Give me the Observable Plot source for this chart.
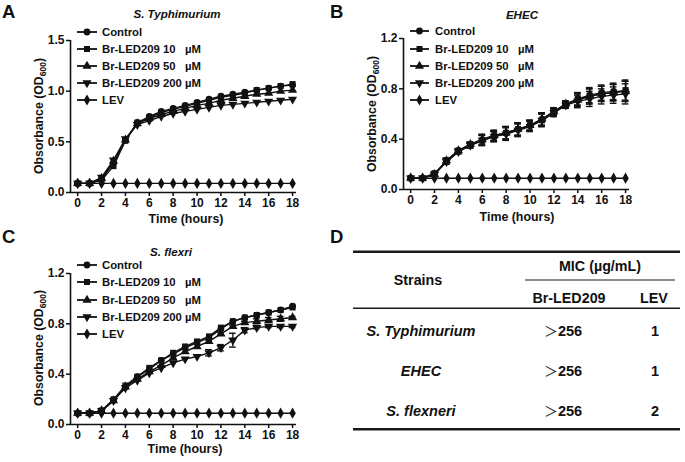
<!DOCTYPE html>
<html><head><meta charset="utf-8">
<script src="https://cdn.jsdelivr.net/npm/d3@7"></script>
<script src="https://cdn.jsdelivr.net/npm/@observablehq/plot@0.6"></script>
<style>
html,body{margin:0;padding:0;background:#fff;}
#fig{position:relative;width:685px;height:462px;overflow:hidden;font-family:"Liberation Sans",Arial,sans-serif;color:#111;}
.panel{position:absolute;}
#overlay{position:absolute;left:0;top:0;pointer-events:none;}
</style></head><body><div id="fig"></div>
<script>
// ---------------- data ----------------
const hours = [0,1,2,3,4,5,6,7,8,9,10,11,12,13,14,15,16,17,18];
const xTicks = [0,2,4,6,8,10,12,14,16,18];
const seriesNames = ["Control","Br-LED209 10   \u00b5M","Br-LED209 50   \u00b5M","Br-LED209 200 \u00b5M","LEV"];

// A: S. Typhimurium
const typhiControl = [0.09,0.09,0.13,0.29,0.52,0.69,0.75,0.80,0.83,0.86,0.89,0.92,0.95,0.97,0.99,1.01,1.03,1.05,1.06];
const typhi10      = [0.09,0.09,0.12,0.26,0.51,0.69,0.74,0.79,0.82,0.85,0.88,0.91,0.94,0.96,0.98,1.01,1.03,1.05,1.07];
const typhi50      = [0.09,0.09,0.14,0.31,0.52,0.68,0.73,0.77,0.80,0.83,0.86,0.88,0.91,0.93,0.95,0.97,0.98,1.00,1.01];
const typhi200     = [0.09,0.09,0.15,0.32,0.53,0.67,0.71,0.75,0.78,0.80,0.82,0.84,0.86,0.87,0.88,0.89,0.90,0.91,0.92];
const typhiLEV     = [0.09,0.09,0.09,0.09,0.09,0.09,0.09,0.09,0.09,0.09,0.09,0.09,0.09,0.09,0.09,0.09,0.09,0.09,0.09];

// B: EHEC
const ehecControl = [0.09,0.09,0.12,0.23,0.31,0.35,0.39,0.42,0.45,0.48,0.51,0.56,0.62,0.68,0.72,0.75,0.77,0.78,0.78];
const ehec10      = [0.09,0.09,0.13,0.22,0.30,0.35,0.39,0.43,0.45,0.48,0.51,0.55,0.61,0.67,0.72,0.74,0.76,0.77,0.79];
const ehec50      = [0.09,0.09,0.12,0.23,0.31,0.36,0.40,0.43,0.45,0.48,0.51,0.56,0.62,0.68,0.71,0.74,0.76,0.77,0.78];
const ehec200     = [0.09,0.09,0.12,0.22,0.30,0.35,0.39,0.42,0.44,0.47,0.50,0.55,0.61,0.67,0.70,0.72,0.74,0.75,0.76];
const ehecLEV     = [0.09,0.09,0.09,0.09,0.09,0.09,0.09,0.09,0.09,0.09,0.09,0.09,0.09,0.09,0.09,0.09,0.09,0.09,0.09];
const ehecErr     = [0,0,0.01,0.02,0.015,0.02,0.04,0.04,0.05,0.05,0.04,0.05,0.03,0.025,0.05,0.06,0.06,0.065,0.08];

// C: S. flexri
const flexControl = [0.09,0.09,0.11,0.19,0.30,0.38,0.44,0.51,0.56,0.61,0.65,0.69,0.76,0.82,0.85,0.87,0.89,0.91,0.94];
const flex10      = [0.09,0.09,0.11,0.20,0.31,0.38,0.45,0.51,0.57,0.62,0.66,0.70,0.77,0.82,0.85,0.87,0.89,0.91,0.93];
const flex50      = [0.09,0.09,0.11,0.19,0.30,0.36,0.42,0.47,0.53,0.58,0.62,0.66,0.72,0.78,0.81,0.82,0.83,0.84,0.85];
const flex200     = [0.09,0.09,0.11,0.19,0.29,0.35,0.41,0.45,0.49,0.52,0.54,0.57,0.61,0.67,0.75,0.77,0.78,0.78,0.78];
const flexLEV     = [0.09,0.09,0.09,0.09,0.09,0.09,0.09,0.09,0.09,0.09,0.09,0.09,0.09,0.09,0.09,0.09,0.09,0.09,0.09];
const flex50Err   = [0,0,0,0,0,0,0,0,0,0,0,0.01,0.01,0.01,0.01,0.02,0.02,0.02,0.01];
const flex200Err  = [0,0,0,0,0,0,0,0,0,0,0,0.025,0.025,0.055,0.02,0.01,0.01,0.01,0.01];

// D: MIC table
const tableStrains = ["S. Typhimurium","EHEC","S. flexneri"];
const micBrLED = ["256","256","256"];
const micLEV = ["1","1","2"];

// ---------------- layout ----------------
const ink = "#111";
const symbolOf = ["circle","square","triangle","triangle","diamond"];
const rotateOf = [0,0,0,180,0];
const xDomain = [-0.6, 18.33];

const panels = [
  {letter:"A", title:"S. Typhimurium", values:[typhiControl,typhi10,typhi50,typhi200,typhiLEV], err:[null,null,null,null,null],
   left:0, top:0, w:340, h:230, mL:70, mT:40, mB:38, mR:44, yMax:1.5, yTicks:[0,0.5,1.0,1.5],
   letterPos:[2,18], titlePos:[177,18], yTitlePos:[42.5,116], xTitlePos:[186,222.5],
   legend:{x0:77, x1:97, tx:102, ys:[32,49,66,83,100]}},
  {letter:"B", title:"EHEC", values:[ehecControl,ehec10,ehec50,ehec200,ehecLEV], err:[ehecErr,ehecErr,ehecErr,ehecErr,null],
   left:340, top:0, w:345, h:230, mL:63, mT:38, mB:41, mR:56, yMax:1.2, yTicks:[0,0.4,0.8,1.2],
   letterPos:[330,18], titlePos:[522,19], yTitlePos:[376,114], xTitlePos:[517,221],
   legend:{x0:410, x1:429, tx:435, ys:[31,49,66,83,100]}},
  {letter:"C", title:"S. flexri", values:[flexControl,flex10,flex50,flex200,flexLEV], err:[null,null,flex50Err,flex200Err,null],
   left:0, top:230, w:340, h:232, mL:70, mT:43, mB:38, mR:44, yMax:1.2, yTicks:[0,0.4,0.8,1.2],
   letterPos:[2,243], titlePos:[171,256], yTitlePos:[42.5,348], xTitlePos:[185,453],
   legend:{x0:77, x1:97, tx:102, ys:[265,282,300,317,334]}}
];

const fig = document.getElementById("fig");
const fmt1 = d3.format(".1f");

panels.forEach(p => {
  const rows = [];
  p.values.forEach((vals, i) => vals.forEach((v, j) => rows.push({s: seriesNames[i], si: i, t: hours[j], v, e: p.err[i] ? p.err[i][j] : 0})));
  const errRows = rows.filter(d => d.e > 0);
  const dotMarks = [4,0,3,2,1].map(i => Plot.dot(rows.filter(d => d.si === i), {
    x: "t", y: "v", symbol: symbolOf[i], r: 3.4, fill: ink, stroke: "none", rotate: rotateOf[i]
  }));
  const chart = Plot.plot({
    width: p.w, height: p.h,
    marginLeft: p.mL, marginRight: p.mR, marginTop: p.mT, marginBottom: p.mB,
    style: {fontFamily: "'Liberation Sans', Arial, sans-serif", fontSize: "12px", fontWeight: "bold", color: ink, background: "transparent", overflow: "visible"},
    x: {domain: xDomain, type: "linear"},
    y: {domain: [0, p.yMax]},
    marks: [
      Plot.line(rows, {x: "t", y: "v", z: "s", stroke: ink, strokeWidth: 1.4}),
      Plot.ruleX(errRows, {x: "t", y1: d => d.v - d.e, y2: d => d.v + d.e, stroke: ink, strokeWidth: 1.3}),
      Plot.ruleY(errRows, {y: d => d.v + d.e, x1: d => d.t - 0.28, x2: d => d.t + 0.28, stroke: ink, strokeWidth: 1.4}),
      Plot.ruleY(errRows, {y: d => d.v - d.e, x1: d => d.t - 0.28, x2: d => d.t + 0.28, stroke: ink, strokeWidth: 1.4}),
      ...dotMarks,
      Plot.ruleX([xDomain[0]], {y1: 0, y2: p.yMax, stroke: ink, strokeWidth: 1.6}),
      Plot.ruleY([0], {x1: xDomain[0], x2: xDomain[1], stroke: ink, strokeWidth: 1.6}),
      Plot.axisY({ticks: p.yTicks, tickFormat: fmt1, tickSize: 4, tickPadding: 2, label: null, strokeWidth: 1.5}),
      Plot.axisX({ticks: xTicks, tickFormat: "d", tickSize: 4, tickPadding: 1.5, label: null, strokeWidth: 1.5})
    ]
  });
  const div = document.createElement("div");
  div.className = "panel";
  div.style.left = p.left + "px";
  div.style.top = p.top + "px";
  div.appendChild(chart);
  fig.appendChild(div);
});

// ---------------- overlay: letters, titles, legends, axis titles, table ----------------
const svg = d3.select(fig).append("svg").attr("id","overlay").attr("width",685).attr("height",462)
  .style("font-family","'Liberation Sans', Arial, sans-serif").style("font-weight","bold").attr("fill", ink);

panels.forEach(p => {
  svg.append("text").attr("x", p.letterPos[0]).attr("y", p.letterPos[1]).attr("font-size", 18.5).text(p.letter);
  svg.append("text").attr("x", p.titlePos[0]).attr("y", p.titlePos[1]).attr("text-anchor","middle")
    .attr("font-size", 11.6).attr("font-style","italic").text(p.title);
  const yt = svg.append("text").attr("transform", `translate(${p.yTitlePos[0]},${p.yTitlePos[1]}) rotate(-90)`)
    .attr("text-anchor","middle").attr("font-size", 12.3);
  yt.append("tspan").text("Obsorbance (OD");
  yt.append("tspan").attr("font-size", 8.5).attr("dy", 3).text("600");
  yt.append("tspan").attr("dy", -3).text(")");
  svg.append("text").attr("x", p.xTitlePos[0]).attr("y", p.xTitlePos[1]).attr("text-anchor","middle")
    .attr("font-size", 12.4).text("Time (hours)");
  const L = p.legend;
  seriesNames.forEach((name, i) => {
    const y = L.ys[i];
    svg.append("line").attr("x1", L.x0).attr("x2", L.x1).attr("y1", y).attr("y2", y).attr("stroke", ink).attr("stroke-width", 1.8);
    const sym = {circle: d3.symbolCircle, square: d3.symbolSquare, triangle: d3.symbolTriangle, diamond: d3.symbolDiamond}[symbolOf[i]];
    svg.append("path").attr("d", d3.symbol(sym, 3.4 * 3.4 * Math.PI)())
      .attr("transform", `translate(${(L.x0 + L.x1) / 2},${y}) rotate(${rotateOf[i]})`).attr("fill", ink);
    svg.append("text").attr("x", L.tx).attr("y", y + 4.2).attr("font-size", 11.3).style("white-space","pre").text(name);
  });
});

// Panel D letter
svg.append("text").attr("x", 330).attr("y", 243).attr("font-size", 18.5).text("D");

// Table
const tl = {x0: 353, x1: 680};
const hline = (y, w, x0 = tl.x0, x1 = tl.x1) => svg.append("line").attr("x1", x0).attr("x2", x1).attr("y1", y).attr("y2", y).attr("stroke", "#1a1a1a").attr("stroke-width", w);
hline(251.7, 2.6);
hline(280, 1.2, 525, 675);
hline(308.3, 1.5);
hline(429.3, 2.6);

const th = (x, y, t) => svg.append("text").attr("x", x).attr("y", y).attr("text-anchor","middle").attr("font-size", 14.3).text(t);
th(418, 285, "Strains");
th(600, 271, "MIC (\u00b5g/mL)");
th(569, 303, "Br-LED209");
th(654, 303, "LEV");

const rowBase = [335.5, 375.5, 415.5];
tableStrains.forEach((s, i) => {
  svg.append("text").attr("x", 421).attr("y", rowBase[i]).attr("text-anchor","middle").attr("font-size", 14.5)
    .attr("font-style","italic").text(s);
  const t = svg.append("text").attr("x", 563).attr("y", rowBase[i]).attr("text-anchor","middle").attr("font-size", 14.5);
  t.append("tspan").attr("font-weight","normal").attr("font-family","'Noto Sans CJK SC'").attr("font-size", 14).text("\uff1e");
  t.append("tspan").text(micBrLED[i]);
  svg.append("text").attr("x", 655).attr("y", rowBase[i]).attr("text-anchor","middle").attr("font-size", 14.5).text(micLEV[i]);
});
</script></body></html>
